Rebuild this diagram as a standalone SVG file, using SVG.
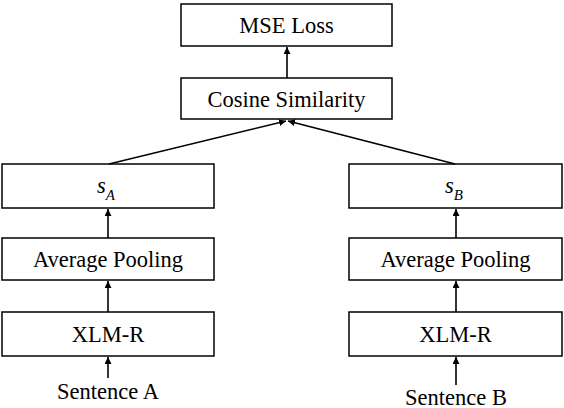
<svg xmlns="http://www.w3.org/2000/svg" width="564" height="408" viewBox="0 0 564 408">
<defs>
<marker id="ah" viewBox="0 0 10 10" refX="10" refY="5" markerWidth="7" markerHeight="7" orient="auto" markerUnits="userSpaceOnUse">
<path d="M0,0 L10,5 L0,10 z" fill="#000"/>
</marker>
<style>
.box{fill:#fff;stroke:#000;stroke-width:1.5}
.t{font-family:"Liberation Serif", "Times New Roman", serif;font-size:22.5px;text-anchor:middle;fill:#000}
.c{stroke:#000;stroke-width:1.6;fill:none;marker-end:url(#ah)}
</style>
</defs>
<rect width="564" height="408" fill="#fff"/>
<g id="mse"><rect class="box" x="181" y="4" width="211" height="42"/><text class="t" x="286.5" y="33">MSE Loss</text></g>
<g id="cos"><rect class="box" x="181" y="78" width="211" height="41"/><text class="t" x="286.5" y="107">Cosine Similarity</text></g>
<g id="sa"><rect class="box" x="2" y="164" width="212" height="44"/><text class="t" x="106" y="193" font-style="italic">s<tspan font-size="15" dy="7">A</tspan></text></g>
<g id="poolA"><rect class="box" x="2" y="238" width="212" height="42"/><text class="t" x="108" y="267">Average Pooling</text></g>
<g id="xlmA"><rect class="box" x="2" y="312" width="212" height="44"/><text class="t" x="108" y="342">XLM-R</text></g>
<g id="sentA"><text class="t" x="108" y="399">Sentence A</text></g>
<g id="sb"><rect class="box" x="349" y="164" width="213" height="44"/><text class="t" x="454" y="193" font-style="italic">s<tspan font-size="15" dy="7">B</tspan></text></g>
<g id="poolB"><rect class="box" x="349" y="238" width="213" height="42"/><text class="t" x="455.5" y="267">Average Pooling</text></g>
<g id="xlmB"><rect class="box" x="349" y="312" width="213" height="44"/><text class="t" x="455.5" y="342">XLM-R</text></g>
<g id="sentB"><text class="t" x="456" y="405">Sentence B</text></g>
<g id="connectors">
<line class="c" x1="287" y1="78" x2="287" y2="47"/>
<line class="c" x1="109" y1="164" x2="286" y2="121"/>
<line class="c" x1="455" y1="164" x2="288" y2="121"/>
<line class="c" x1="108" y1="238" x2="108" y2="209"/>
<line class="c" x1="108" y1="312" x2="108" y2="281"/>
<line class="c" x1="108" y1="378" x2="108" y2="357"/>
<line class="c" x1="456" y1="238" x2="456" y2="209"/>
<line class="c" x1="456" y1="312" x2="456" y2="281"/>
<line class="c" x1="456" y1="385" x2="456" y2="357"/>
</g>
</svg>
